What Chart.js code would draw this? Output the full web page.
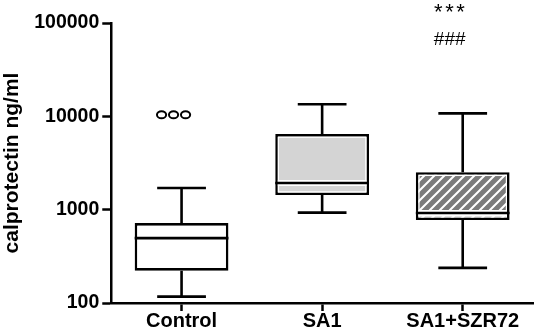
<!DOCTYPE html>
<html>
<head>
<meta charset="utf-8">
<script src="https://cdn.jsdelivr.net/npm/chart.js@4/dist/chart.umd.min.js"></script>
<style>
  html, body { margin: 0; padding: 0; background: #fff; }
  canvas { display: block; }
</style>
</head>
<body>
<canvas id="c" width="536" height="332"></canvas>
<script>
// ---- data ----
const categories = ['Control', 'SA1', 'SA1+SZR72'];
const whiskerLow  = [117, 929, 238];
const q1          = [222, 1435, 775];
const median      = [495, 1932, 922];
const q3          = [718, 6457, 2518];
const whiskerHigh = [1706, 13450, 10770];
const outliers    = [[10400, 10400, 10400], [], []];
const sigStars    = ['', '', '***'];
const sigHash     = ['', '', '###'];
const yTickValues = [100, 1000, 10000, 100000];
const yTitle = 'calprotectin ng/ml';

const FONT = '"Liberation Sans", Arial, sans-serif';

// hatch pattern for the third box
function makeHatch() {
  const p = document.createElement('canvas');
  p.width = 10; p.height = 10;
  const g = p.getContext('2d');
  g.fillStyle = '#7b7b7b';
  g.fillRect(0, 0, 10, 10);
  g.strokeStyle = '#ffffff';
  g.lineWidth = 2;
  g.beginPath();
  g.moveTo(-1, 11); g.lineTo(11, -1);
  g.moveTo(-1, 1); g.lineTo(1, -1);
  g.moveTo(9, 11); g.lineTo(11, 9);
  g.stroke();
  return document.getElementById('c').getContext('2d').createPattern(p, 'repeat');
}
const fills = ['#ffffff', '#d4d4d4', makeHatch()];

const boxPlugin = {
  id: 'boxExtras',
  afterDatasetsDraw(chart) {
    const ctx = chart.ctx;
    const y = chart.scales.y;
    const meta = chart.getDatasetMeta(0);
    const areaTop = chart.chartArea.top;
    ctx.save();
    meta.data.forEach((bar, i) => {
      const cx = bar.x;
      const w = bar.width;
      const left = cx - w / 2, right = cx + w / 2;
      const top = y.getPixelForValue(q3[i]);
      const bot = y.getPixelForValue(q1[i]);
      const lw = 2.6;
      // inner white line
      if (i > 0) {
        ctx.strokeStyle = '#ffffff';
        ctx.lineWidth = 1.2;
        ctx.strokeRect(left + lw + 0.6, top + lw + 0.6, w - 2 * lw - 1.2, bot - top - 2 * lw - 1.2);
      }
      // median
      const my = y.getPixelForValue(median[i]);
      if (i > 0) {
        ctx.strokeStyle = '#ffffff';
        ctx.lineWidth = 6;
        ctx.beginPath(); ctx.moveTo(left + lw, my); ctx.lineTo(right - lw, my); ctx.stroke();
      }
      ctx.strokeStyle = '#000';
      ctx.lineWidth = lw;
      ctx.beginPath(); ctx.moveTo(left, my); ctx.lineTo(right, my); ctx.stroke();
      // whiskers
      const hi = y.getPixelForValue(whiskerHigh[i]);
      const lo = y.getPixelForValue(whiskerLow[i]);
      const capHalf = w * 0.26;
      ctx.beginPath();
      ctx.moveTo(cx, top); ctx.lineTo(cx, hi);
      ctx.moveTo(cx, bot); ctx.lineTo(cx, lo);
      ctx.moveTo(cx - capHalf, hi); ctx.lineTo(cx + capHalf, hi);
      ctx.moveTo(cx - capHalf, lo); ctx.lineTo(cx + capHalf, lo);
      ctx.stroke();
      // outliers
      const outs = outliers[i];
      ctx.lineWidth = 2;
      outs.forEach((v, k) => {
        const ox = cx - 8 + (k - (outs.length - 1) / 2) * 12;
        const oy = y.getPixelForValue(v);
        ctx.beginPath();
        ctx.ellipse(ox, oy, 4.6, 3.6, 0, 0, Math.PI * 2);
        ctx.stroke();
      });
      // significance marks
      ctx.fillStyle = '#000';
      ctx.textAlign = 'center';
      ctx.textBaseline = 'alphabetic';
      if (sigHash[i]) {
        ctx.font = '19px ' + FONT;
        ctx.fillText(sigHash[i], cx - 13, areaTop + 22);
      }
      if (sigStars[i]) {
        ctx.font = '22px ' + FONT;
        ctx.letterSpacing = '2.5px';
        ctx.fillText(sigStars[i], cx - 12, areaTop - 4);
        ctx.letterSpacing = '0px';
      }
    });
    ctx.restore();
  }
};

new Chart(document.getElementById('c'), {
  type: 'bar',
  data: {
    labels: categories,
    datasets: [{
      data: q1.map((v, i) => [v, q3[i]]),
      backgroundColor: fills,
      borderColor: '#000',
      borderWidth: 2.6,
      borderSkipped: false,
      barPercentage: 0.667,
      categoryPercentage: 1
    }]
  },
  options: {
    responsive: false,
    devicePixelRatio: 1,
    animation: false,
    layout: { padding: { top: 23, right: 3, left: 0, bottom: 0 } },
    plugins: { legend: { display: false }, tooltip: { enabled: false } },
    scales: {
      x: {
        type: 'category',
        offset: true,
        grid: { display: true, drawOnChartArea: false, offset: false, tickLength: 8, tickColor: '#000', tickWidth: 2.5 },
        border: { color: '#000', width: 2.5 },
        ticks: { color: '#000', padding: 0.5, font: { family: FONT, size: 20, weight: 'bold', lineHeight: 1 } }
      },
      y: {
        type: 'logarithmic',
        min: 100,
        max: 100000,
        afterBuildTicks: (s) => { s.ticks = yTickValues.map(v => ({ value: v })); },
        grid: { display: true, drawOnChartArea: false, tickLength: 9, tickColor: '#000', tickWidth: 2.5 },
        border: { color: '#000', width: 2.5 },
        ticks: {
          color: '#000', padding: 3, autoSkip: false,
          font: { family: FONT, size: 19.5, weight: 'bold' },
          callback: (v) => String(v)
        },
        title: {
          display: true, text: yTitle, color: '#000',
          font: { family: FONT, size: 21, weight: 'bold' },
          padding: { top: 0, bottom: 6 }
        }
      }
    }
  },
  plugins: [boxPlugin]
});
</script>
</body>
</html>
